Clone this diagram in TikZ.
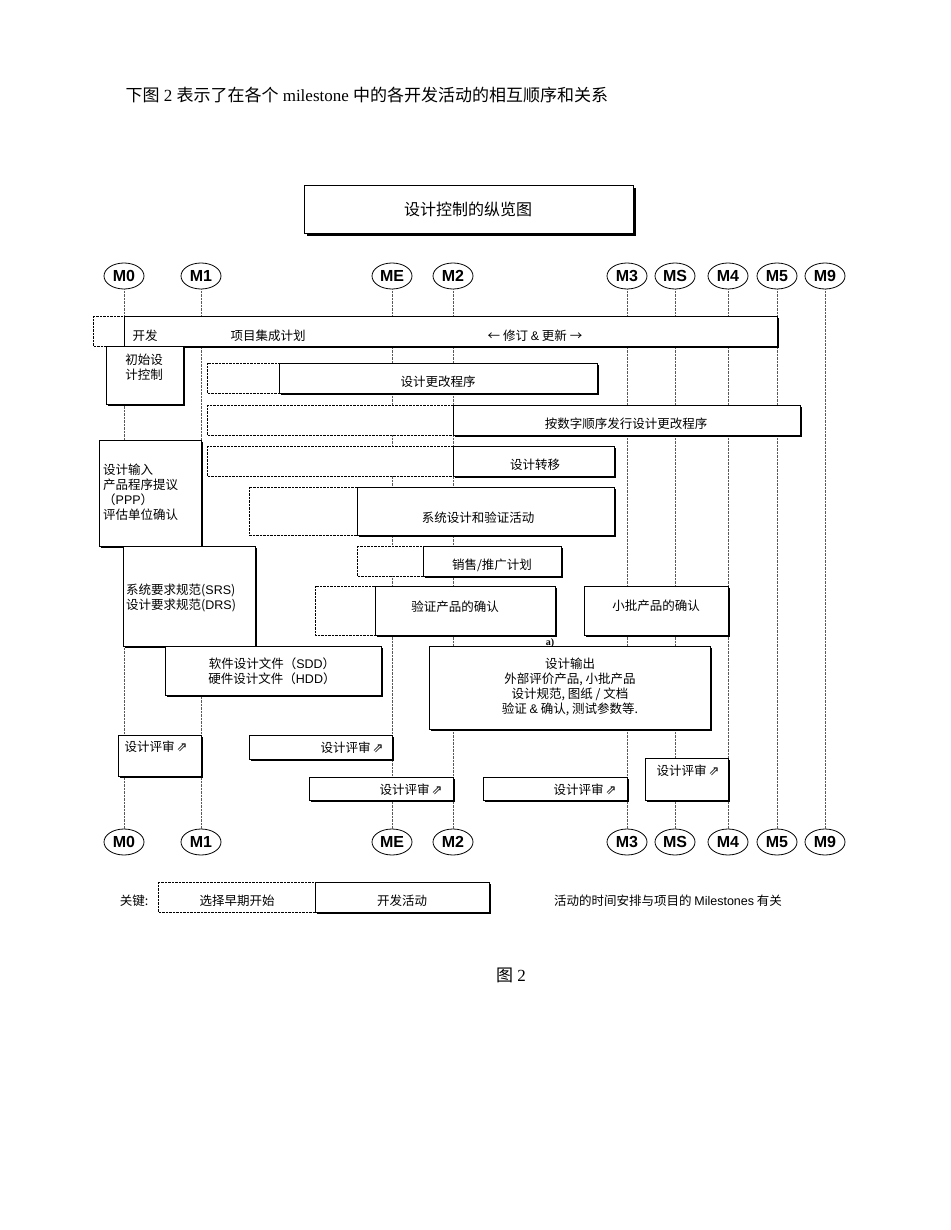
\documentclass[tikz,border=0pt]{standalone}
\usepackage{fontspec}
\setmainfont{Liberation Serif}
\newfontfamily\cjk{Noto Sans CJK SC}
\newfontfamily\sym{DejaVu Sans}
\newfontfamily\ms{Liberation Sans}
\usetikzlibrary{shapes.geometric,shadows}

\newcommand{\rvw}{\cjk 设计评审\,{\sym\fontsize{13}{13}\selectfont ⇗}}

\begin{document}
\begin{tikzpicture}[x=1pt,y=-1pt,
  mile/.style={ellipse, draw, thick, minimum width=40, minimum height=26, inner sep=0pt, font=\ms\bfseries\fontsize{16}{16}\selectfont},
  lane/.style={densely dotted, gray!70!black},
  act/.style={draw, fill=white, drop shadow={shadow xshift=1.5pt, shadow yshift=-1.5pt, fill=black, opacity=1}},
  early/.style={draw, densely dotted, fill=white},
  txt/.style={font=\cjk\fontsize{12.5}{15}\selectfont, inner sep=0pt, align=center}]
\useasboundingbox (0,0) rectangle (950,1230);

% HEADER
\node [anchor=west, font=\fontsize{17}{20}\selectfont] (head) at (122,95) {{\cjk 下图}~2~{\cjk 表示了在各个}~milestone~{\cjk 中的各开发活动的相互顺序和关系}};
\draw [draw, fill=white, drop shadow={shadow xshift=3pt, shadow yshift=-3pt, fill=black, opacity=1}] (304,185) rectangle (633,233);
\node [txt, font=\cjk\fontsize{16}{18}\selectfont] (title) at (468,209) {设计控制的纵览图};

% MILESTONES
\foreach \n/\x in {M0/124, M1/201, ME/392, M2/453, M3/627, MS/675, M4/728, M5/777, M9/825} {
  \node [mile] (\n-top) at (\x,276) {\n};
  \node [mile] (\n-bot) at (\x,842) {\n};
  \draw [lane] (\n-top) -- (\n-bot);
}

% ACTIVITIES
\draw [early] (93,316) rectangle (124,346);
\draw [act] (124,316) rectangle (777,346);
\node [txt] (kaifa) at (145,336) {开发};
\node [txt] (plan) at (268,336) {项目集成计划};
\node [txt] (update) at (535,336) {← 修订 {\ms\&} 更新 →};

\draw [act] (106,346) rectangle (183,404);
\node [txt] (init) at (144,367) {初始设\\计控制};

\draw [early] (207,363) rectangle (279,393);
\draw [act] (279,363) rectangle (597,393);
\node [txt] (change) at (438,382) {设计更改程序};

\draw [early] (207,405) rectangle (453,435);
\draw [act] (453,405) rectangle (800,435);
\node [txt] (release) at (626,424) {按数字顺序发行设计更改程序};

\draw [early] (207,446) rectangle (453,476);
\draw [act] (453,446) rectangle (614,476);
\node [txt] (transfer) at (535,465) {设计转移};

\draw [act] (99,440) rectangle (201,546);
\node [txt, anchor=west, align=left] (input) at (103,492) {设计输入\\产品程序提议\\（{\ms PPP}）\\评估单位确认};

\draw [early] (249,487) rectangle (357,535);
\draw [act] (357,487) rectangle (614,535);
\node [txt] (sysdes) at (478,518) {系统设计和验证活动};

\draw [early] (357,546) rectangle (423,576);
\draw [act] (423,546) rectangle (561,576);
\node [txt] (sales) at (492,565) {销售/推广计划};

\draw [act] (123,546) rectangle (255,646);
\node [txt, anchor=west, align=left] (srs) at (126,598) {系统要求规范({\ms SRS})\\设计要求规范({\ms DRS})};

\draw [early] (315,586) rectangle (375,635);
\draw [act] (375,586) rectangle (555,635);
\node [txt] (verify) at (455,607) {验证产品的确认};
\draw [act] (584,586) rectangle (728,635);
\node [txt] (pilot) at (656,606) {小批产品的确认};

\draw [act] (165,646) rectangle (381,695);
\node [txt] (sdd) at (272,671) {软件设计文件（{\ms SDD}）\\硬件设计文件（{\ms HDD}）};

\node [font=\bfseries\fontsize{10}{10}\selectfont, inner sep=0pt] (note) at (550,643) {a)};
\draw [act, thick] (429,646) rectangle (710,729);
\node [txt] (output) at (570,687) {设计输出\\外部评价产品, 小批产品\\设计规范, 图纸 / 文档\\验证 {\ms\&} 确认, 测试参数等.};

% REVIEWS
\draw [act] (118,735) rectangle (201,776);
\node [txt] (rv0) at (156,747) {\rvw};
\draw [act] (249,735) rectangle (392,759);
\node [txt] (rv1) at (352,748) {\rvw};
\draw [act] (309,777) rectangle (453,800);
\node [txt] (rv2) at (411,790) {\rvw};
\draw [act] (483,777) rectangle (627,800);
\node [txt] (rv3) at (585,790) {\rvw};
\draw [act] (645,758) rectangle (728,800);
\node [txt] (rv4) at (688,771) {\rvw};

% KEY
\node [txt] (key) at (134,901) {关键:};
\draw [early] (158,882) rectangle (315,912);
\node [txt] (keyearly) at (237,901) {选择早期开始};
\draw [act] (315,882) rectangle (489,912);
\node [txt] (keyact) at (402,901) {开发活动};
\node [txt] (keynote) at (668,901) {活动的时间安排与项目的 {\ms Milestones} 有关};

\node [font=\fontsize{17}{20}\selectfont] (fig) at (511,975) {{\cjk 图}~2};
\end{tikzpicture}
\end{document}
